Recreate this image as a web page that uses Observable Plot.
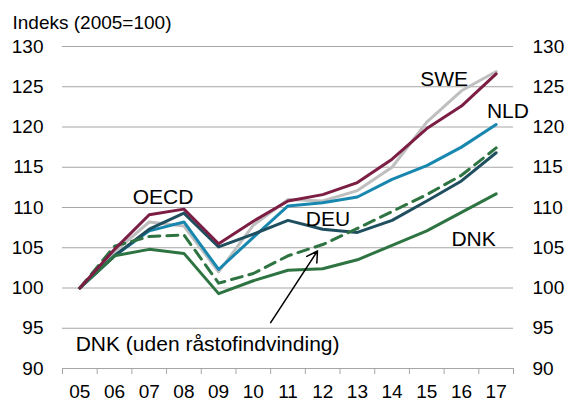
<!DOCTYPE html>
<html>
<head>
<meta charset="utf-8">
<script src="https://cdn.jsdelivr.net/npm/d3@7"></script>
<script src="https://cdn.jsdelivr.net/npm/@observablehq/plot@0.6"></script>
<style>
  html, body { margin: 0; padding: 0; background: #fff; }
  #chart { width: 569px; height: 403px; }
</style>
</head>
<body>
<div id="chart"></div>
<script>
const title = "Indeks (2005=100)";
const years = ["05","06","07","08","09","10","11","12","13","14","15","16","17"];
const yTicks = [90, 95, 100, 105, 110, 115, 120, 125, 130];

const OECD = [100, 104.8, 109.1, 109.8, 105.5, 108.3, 110.8, 111.6, 113.1, 116.0, 119.8, 122.6, 126.6];
const SWE  = [100, 104.5, 108.2, 107.7, 102.0, 107.8, 111.0, 110.8, 112.1, 115.0, 120.6, 124.5, 126.9];
const NLD  = [100, 104.0, 107.1, 108.2, 102.3, 106.3, 110.2, 110.6, 111.3, 113.5, 115.2, 117.5, 120.3];
const DEU  = [100, 104.0, 107.3, 109.3, 105.1, 106.7, 108.4, 107.3, 106.9, 108.4, 110.8, 113.3, 116.8];
const DNK  = [100, 104.0, 104.8, 104.3,  99.3, 100.9, 102.2, 102.4, 103.5, 105.3, 107.1, 109.4, 111.7];
const DNKx = [100, 105.2, 106.4, 106.6, 100.6, 101.8, 104.0, 105.4, 107.4, 109.5, 111.6, 114.0, 117.4];

const seriesNames = ["SWE", "NLD", "DEU", "DNK", "DNKx", "OECD"];
const seriesValues = {SWE, NLD, DEU, DNK, DNKx, OECD};
const seriesColors = {SWE: "#BFBFBF", NLD: "#1787B0", DEU: "#1F4F5F", DNK: "#2E7442", DNKx: "#2E7442", OECD: "#7C1D44"};

// annotation labels in data coordinates (year index, index value)
const labelText = ["SWE", "NLD", "OECD", "DEU", "DNK"];
const labelX = [10.5, 12.34, 2.4, 7.15, 11.35];
const labelY = [125.9, 122.0, 111.25, 108.57, 106.0];
const noteText = "DNK (uden råstofindvinding)";
const noteX = -0.12, noteY = 93.04;
const arrowFrom = [5.5, 95.7], arrowTo = [6.85, 104.6];

const idx = d3.range(years.length);
const boundaries = d3.range(years.length + 1).map(i => i - 0.5);
const gridTicks = yTicks.filter(t => t > 90);

const lineMarks = seriesNames.map(name => {
  const rows = idx.map(i => ({i, v: seriesValues[name][i]}));
  return Plot.lineY(rows, {
    x: "i", y: "v",
    stroke: seriesColors[name],
    strokeWidth: 3,
    strokeDasharray: name === "DNKx" ? "11,7" : null,
    strokeLinejoin: "round"
  });
});

const labels = labelText.map((t, k) => ({t, x: labelX[k], y: labelY[k]}));

const chart = Plot.plot({
  width: 569,
  height: 403,
  marginTop: 46,
  marginBottom: 35,
  marginLeft: 62,
  marginRight: 56,
  style: {fontFamily: "'Liberation Sans', Arial, sans-serif", fontSize: "19px", color: "#000", background: "#fff"},
  x: {domain: [-0.5, 12.5]},
  y: {domain: [90, 130]},
  marks: [
    Plot.ruleY(gridTicks, {stroke: "#A6A6A6", strokeWidth: 1}),
    Plot.ruleY([90], {stroke: "#A6A6A6", strokeWidth: 1}),
    Plot.axisX(boundaries, {tickSize: 6, tickFormat: () => "", stroke: "#A6A6A6", label: null}),
    Plot.axisX(idx, {tickSize: 0, tickPadding: 16, tickFormat: i => years[i], label: null, fontSize: 19}),
    Plot.axisY(yTicks, {anchor: "left", tickSize: 0, tickPadding: 19, label: null, fontSize: 19}),
    Plot.axisY(yTicks, {anchor: "right", tickSize: 0, tickPadding: 19, label: null, fontSize: 19}),
    ...lineMarks,
    Plot.text(labels, {x: "x", y: "y", text: "t", fontSize: 21, fill: "#000"}),
    Plot.text([noteText], {x: () => noteX, y: () => noteY, text: d => d, textAnchor: "start", fontSize: 21, fill: "#000"}),
    Plot.arrow([{x1: arrowFrom[0], y1: arrowFrom[1], x2: arrowTo[0], y2: arrowTo[1]}],
      {x1: "x1", y1: "y1", x2: "x2", y2: "y2", stroke: "#000", strokeWidth: 1.5, headLength: 12}),
    Plot.text([title], {frameAnchor: "top-left", textAnchor: "start", lineAnchor: "top", dx: -50, dy: -31, fontSize: 19, fill: "#000"})
  ]
});
document.getElementById("chart").appendChild(chart);
</script>
</body>
</html>
